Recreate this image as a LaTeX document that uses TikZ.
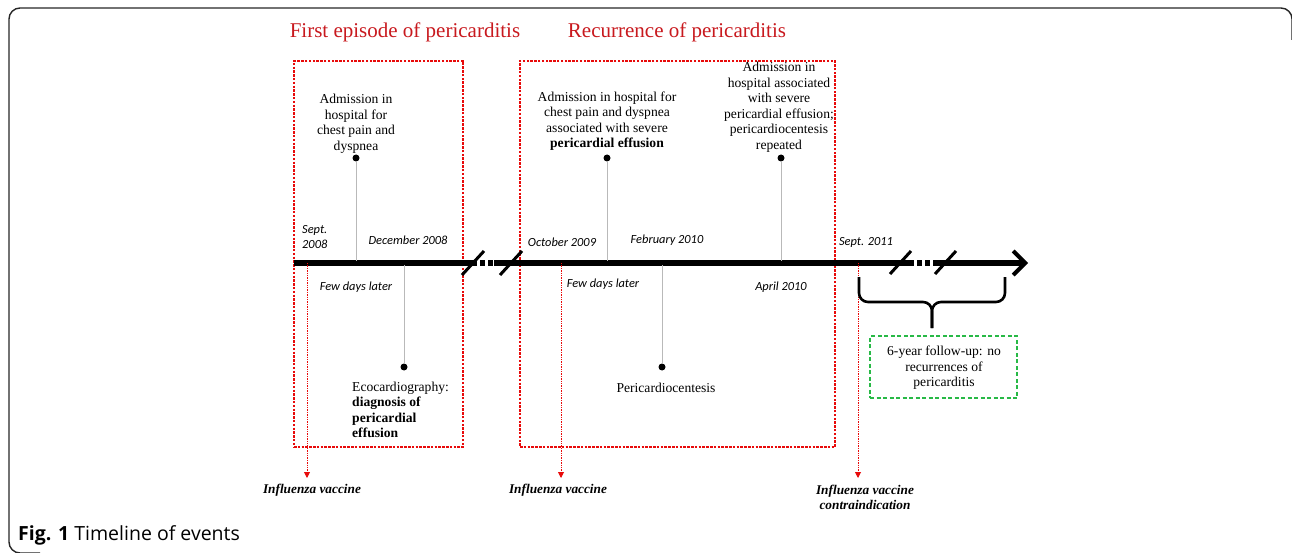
\documentclass[tikz,border=0pt]{standalone}
\usepackage{fontspec}
\setmainfont{Liberation Serif}
\newfontfamily\calib{Carlito}
\newfontfamily\capfont{Open Sans}
\usetikzlibrary{arrows.meta}
\definecolor{tred}{RGB}{200,25,30}
\definecolor{bred}{RGB}{232,10,10}
\definecolor{tgreen}{RGB}{40,185,70}
\definecolor{stemgray}{RGB}{185,185,185}
\begin{document}
\begin{tikzpicture}[x=1pt,y=-1pt,
  txt/.style={font=\fontsize{13.6}{15.5}\selectfont, align=center, inner sep=0pt},
  datelbl/.style={font=\calib\itshape\fontsize{12.4}{15}\selectfont, inner sep=0pt},
  flu/.style={font=\bfseries\itshape\fontsize{13.3}{15}\selectfont, align=center, inner sep=0pt},
  ttl/.style={font=\fontsize{21}{24}\selectfont, text=tred, inner sep=0pt},
  evdot/.style={circle, fill=black, inner sep=0pt, minimum size=7pt},
  axdot/.style={circle, fill=black, inner sep=0pt, minimum size=4pt},
  stemline/.style={draw=stemgray, line width=0.9pt},
  axisline/.style={line width=5pt, black},
  slash/.style={line width=3pt, black},
  redbox/.style={draw=bred, line width=2.3pt, dash pattern=on 2.5pt off 1.3pt, inner sep=0pt},
  redarr/.style={draw=bred, line width=0.9pt, dash pattern=on 1.3pt off 1.1pt, -{Triangle[length=6pt,width=6pt]}},
  greenbox/.style={draw=tgreen, line width=1.3pt, dash pattern=on 4pt off 2.5pt, inner sep=0pt},
  bracestyle/.style={line width=2.6pt, black, rounded corners=9pt}
]
\useasboundingbox (0,0) rectangle (1292,553);
% outer frame
\draw[line width=1.4pt, rounded corners=11pt, black!85] (40,553) -- (9,553) -- (9,8) -- (1292,8) -- (1292,40);

% titles
\node[ttl] (T1) at (405,32) {First episode of pericarditis};
\node[ttl] (T2) at (677,32) {Recurrence of pericarditis};

% red dotted boxes
\node[redbox, minimum width=169pt, minimum height=386pt] (B1) at (378.5,254) {};
\node[redbox, minimum width=315pt, minimum height=386pt] (B2) at (677.5,254) {};

% axis coordinates
\coordinate (ax0) at (294,263);
\coordinate (br1a) at (472,263);
\coordinate (br1b) at (494,263);
\coordinate (br2a) at (909,263);
\coordinate (br2b) at (934,263);
\coordinate (axend) at (1028,263);

\draw[axisline] (ax0) -- (br1a);
\draw[line width=5pt, dash pattern=on 4.5pt off 3.5pt] (br1a) -- (br1b);
\draw[axisline] (br1b) -- (br2a);
\draw[line width=5pt, dash pattern=on 4.5pt off 3.5pt] (br2a) -- (br2b);
\draw[axisline, line cap=butt, -{Straight Barb[length=12pt,width=24pt,line width=4pt]}] (br2b) -- (axend);

% break slashes
\coordinate (s1a) at (462,275); \coordinate (s1b) at (484,251);
\coordinate (s2a) at (500,275); \coordinate (s2b) at (522,251);
\coordinate (s3a) at (890,274); \coordinate (s3b) at (911,251);
\coordinate (s4a) at (935,274); \coordinate (s4b) at (956,251);
\draw[slash] (s1a) -- (s1b);
\draw[slash] (s2a) -- (s2b);
\draw[slash] (s3a) -- (s3b);
\draw[slash] (s4a) -- (s4b);

% tick points on axis
\node[axdot] (t1) at (356,263) {};
\node[axdot] (t2) at (404,263) {};
\node[axdot] (t3) at (607,263) {};
\node[axdot] (t4) at (662,263) {};
\node[axdot] (t5) at (781,263) {};

% event dots
\node[evdot] (d1) at (356,158) {};
\node[evdot] (d2) at (404,367) {};
\node[evdot] (d3) at (607,158) {};
\node[evdot] (d4) at (662,367) {};
\node[evdot] (d5) at (781,158) {};
\draw[stemline] (d1) -- (t1);
\draw[stemline] (t2) -- (d2);
\draw[stemline] (d3) -- (t3);
\draw[stemline] (t4) -- (d4);
\draw[stemline] (d5) -- (t5);

% event texts
\node[txt] (a1) at (356,124) {Admission in\\hospital for\\chest pain and\\dyspnea};
\node[txt] (a2) at (607,121) {Admission in hospital for\\chest pain and dyspnea\\associated with severe\\\textbf{pericardial effusion}};
\node[txt] (a3) at (779,107) {Admission in\\hospital associated\\with severe\\pericardial effusion;\\pericardiocentesis\\repeated};
\node[txt, align=left, anchor=west] (e1) at (352,410) {Ecocardiography:\\\textbf{diagnosis of}\\\textbf{pericardial}\\\textbf{effusion}};
\node[txt] (p1) at (666,388) {Pericardiocentesis};

% date labels
\node[datelbl, align=left, anchor=west] (l1) at (302,237) {Sept.\\2008};
\node[datelbl] (l2) at (408,240) {December 2008};
\node[datelbl] (l3) at (562,242) {October 2009};
\node[datelbl] (l4) at (667,240) {February 2010};
\node[datelbl] (l5) at (866,242) {Sept. 2011};
\node[datelbl] (l6) at (356,287) {Few days later};
\node[datelbl] (l7) at (603,284) {Few days later};
\node[datelbl] (l8) at (781,287) {April 2010};

% influenza vaccine arrows
\coordinate (v1) at (307,263); \coordinate (v1e) at (307,478);
\coordinate (v2) at (561,263); \coordinate (v2e) at (561,478);
\coordinate (v3) at (858,263); \coordinate (v3e) at (858,478);
\draw[redarr] (v1) -- (v1e);
\draw[redarr] (v2) -- (v2e);
\draw[redarr] (v3) -- (v3e);
\node[flu] (f1) at (312,490) {Influenza vaccine};
\node[flu] (f2) at (558,490) {Influenza vaccine};
\node[flu] (f3) at (865,497) {Influenza vaccine\\contraindication};

% brace
\coordinate (bl) at (859,277);
\coordinate (br) at (1005,277);
\coordinate (bm) at (932,302);
\coordinate (btip) at (932,328);
\draw[bracestyle] (bl) |- (bm) -- (btip);
\draw[bracestyle] (br) |- (bm) -- (btip);

% follow-up box
\node[greenbox, minimum width=147pt, minimum height=62pt] (G) at (943.5,367) {};
\node[txt] (g1) at (944,368) {6-year follow-up: no\\recurrences of\\pericarditis};

% caption
\node[anchor=base west, inner sep=0pt, font=\capfont\fontsize{19.5}{22}\selectfont] (cap) at (18,540) {\textbf{Fig. 1} Timeline of events};
\end{tikzpicture}
\end{document}
